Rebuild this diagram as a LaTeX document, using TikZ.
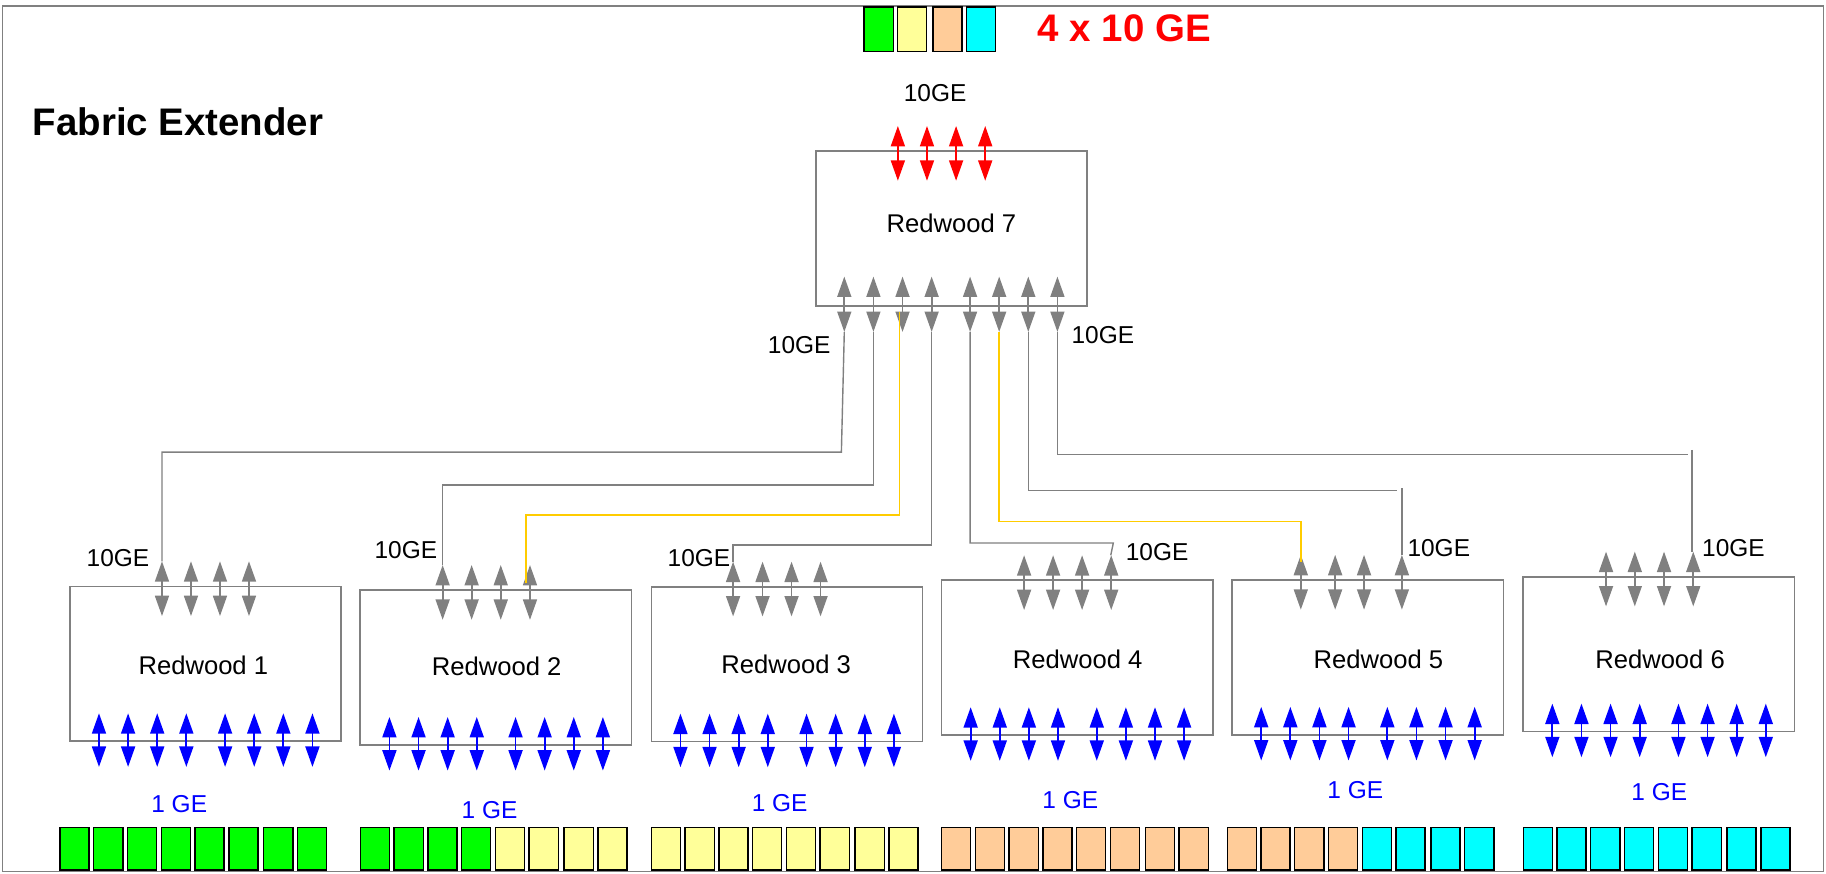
\documentclass[tikz,border=0pt]{standalone}
\usepackage{fontspec}
\setmainfont{Liberation Sans}
\usetikzlibrary{arrows.meta}
\definecolor{lgray}{RGB}{128,128,128}
\definecolor{gold}{RGB}{255,204,0}
\definecolor{sqG}{RGB}{0,255,0}
\definecolor{sqY}{RGB}{255,255,153}
\definecolor{sqO}{RGB}{255,204,153}
\definecolor{sqC}{RGB}{0,255,255}
\definecolor{pblue}{RGB}{0,0,255}
\definecolor{pred}{RGB}{255,0,0}
\newcommand\rwbox[4]{% name, left, top, gray arrow xs
  \node[rbox] (#1) at ({#2+116.5},{#3+66.5}) {};
  \foreach \x in {#4} \draw[dbl, lgray] (\x,{#3-21.5}) -- (\x,{#3+25.5});
  \foreach \o in {25,50,75,100,133.3,158.3,183.3,208.3}
    \draw[dbl, pblue] ({#2+\o},{#3+133-24}) -- ({#2+\o},{#3+133+22});
}
\newcommand\sqgroup[4]{% prefix, start x, colour A, colour B
  \foreach \o [count=\k] in {0,29,58,87,116,145,175,204}{
    \ifnum\k<5 \def\cc{#3}\else\def\cc{#4}\fi
    \node[sq, fill=\cc] (#1-\k) at ({#2+\o+12.5},728.75) {};
  }
}
\begin{document}
\begin{tikzpicture}[x=1pt,y=-1pt,
  rbox/.style={draw=lgray, line width=1.4pt, minimum width=233pt, minimum height=133pt, inner sep=0pt},
  dbl/.style={line width=1.5pt, arrows={Triangle[length=17.5pt,width=12pt]-Triangle[length=17.5pt,width=12pt]}},
  conn/.style={draw=lgray, line width=1.2pt},
  yconn/.style={draw=gold, line width=1.3pt},
  lbl/.style={font=\fontsize{21}{25}\selectfont, inner sep=0pt},
  rlbl/.style={font=\fontsize{22}{26}\selectfont, inner sep=0pt},
  glbl/.style={font=\fontsize{21}{25}\selectfont, text=pblue, inner sep=0pt},
  sq/.style={draw=black, line width=1.2pt, minimum width=25pt, minimum height=36.5pt, inner sep=0pt},
]
\useasboundingbox (0,0) rectangle (1568,750);
\draw[lgray, line width=1.4pt] (2.3,5.2) rectangle (1565.7,748.5);

% title texts
\node[anchor=base west, inner sep=0pt, font=\bfseries\fontsize{33}{40}\selectfont] (title) at (28,116) {Fabric Extender};
\node[anchor=base west, inner sep=0pt, text=pred, font=\bfseries\fontsize{33}{40}\selectfont] (ge4) at (891,35.8) {4 x 10 GE};

% top squares
\node[sq, fill=sqG, minimum height=38pt] (u1) at (754.5,25) {};
\node[sq, fill=sqY, minimum height=38pt] (u2) at (783,25) {};
\node[sq, fill=sqO, minimum height=38pt] (u3) at (813.5,25) {};
\node[sq, fill=sqC, minimum height=38pt] (u4) at (842.5,25) {};

% Redwood 7
\node[rbox] (r7) at (817,196.2) {};
\foreach \x in {771,796,821,846} \draw[dbl, pred] (\x,108.2) -- (\x,155.2);
\foreach \x in {725,750,775,800,833,858,883,908} \draw[dbl, lgray] (\x,237.5) -- (\x,285);
\node[rlbl] (r7t) at (817,191.6) {Redwood 7};
\node[lbl] (l7top) at (803,80) {10GE};
\node[lbl] (l7l) at (686.3,296.3) {10GE};
\node[lbl] (l7r) at (947,287.7) {10GE};

% lower boxes
\rwbox{r1}{60}{503.5}{139.1,164,188.9,213.8}
\rwbox{r2}{309.4}{506.7}{380.1,405,430,455.1}
\rwbox{r3}{559.3}{503.8}{629.5,654.8,679.7,704.6}
\rwbox{r4}{808.5}{498.3}{879.4,904.3,929.2,954.2}
\rwbox{r5}{1058}{498}{1117,1146.5,1171.3,1203.8}
\rwbox{r6}{1308}{495.2}{1379.1,1403.8,1428.9,1454}

\node[rlbl] (r1t) at (174.6,571) {Redwood 1};
\node[rlbl] (r2t) at (426.5,572.5) {Redwood 2};
\node[rlbl] (r3t) at (675.1,570.5) {Redwood 3};
\node[rlbl] (r4t) at (925.4,566.2) {Redwood 4};
\node[rlbl] (r5t) at (1183.7,566.2) {Redwood 5};
\node[rlbl] (r6t) at (1425.5,566.2) {Redwood 6};

\node[lbl] (l1) at (101.3,479.5) {10GE};
\node[lbl] (l2) at (348.5,472.3) {10GE};
\node[lbl] (l3) at (600.2,479.5) {10GE};
\node[lbl] (l4) at (993.6,473.7) {10GE};
\node[lbl] (l5) at (1235.5,470.9) {10GE};
\node[lbl] (l6) at (1488.5,470.9) {10GE};

\node[glbl] (g1) at (153.9,690.4) {1 GE};
\node[glbl] (g2) at (420.4,695.6) {1 GE};
\node[glbl] (g3) at (669.5,689.9) {1 GE};
\node[glbl] (g4) at (919.1,687) {1 GE};
\node[glbl] (g5) at (1163.8,678.4) {1 GE};
\node[glbl] (g6) at (1424.8,679.8) {1 GE};

% port squares
\sqgroup{s1}{51.5}{sqG}{sqG}
\sqgroup{s2}{309.4}{sqG}{sqY}
\sqgroup{s3}{559.3}{sqY}{sqY}
\sqgroup{s4}{808.5}{sqO}{sqO}
\sqgroup{s5}{1053.8}{sqO}{sqC}
\sqgroup{s6}{1308}{sqC}{sqC}

% connector end points
\foreach \x [count=\i] in {725,750,775,800,833,858,883,908} \coordinate (b\i) at (\x,285);
\coordinate (c1) at (139.1,482);
\coordinate (c2) at (380.1,485.2);
\coordinate (c3) at (629.5,482.3);
\coordinate (c4) at (953.8,476.8);
\coordinate (c5) at (1203.8,476.5);
\coordinate (c6) at (1452.8,473.7);
\coordinate (y3s) at (772.4,267.6);
\coordinate (y3e) at (451.7,500.7);
\coordinate (y6e) at (1117,482.3);
\coordinate (c5s) at (1203.8,419.3);
\coordinate (c6s) at (1452.8,386.4);

% connectors
\draw[conn] (b1) -- (722.5,388.2) -- (c1 |- 0,388.2) -- (c1);
\draw[conn] (b2) |- (380.1,416.5) -- (c2);
\draw[yconn] (y3s) |- (451.7,442.2) -- (y3e);
\draw[conn] (b4) |- (629.5,468) -- (c3);
\draw[conn] (b5) |- (956,466.3) -- (c4);
\draw[yconn] (b6) |- (1117,448) -- (y6e);
\draw[conn] (b7) |- (1199.5,421.4);
\draw[conn] (c5s) -- (c5);
\draw[conn] (b8) |- (1449.2,390.1);
\draw[conn] (c6s) -- (c6);
\end{tikzpicture}
\end{document}
